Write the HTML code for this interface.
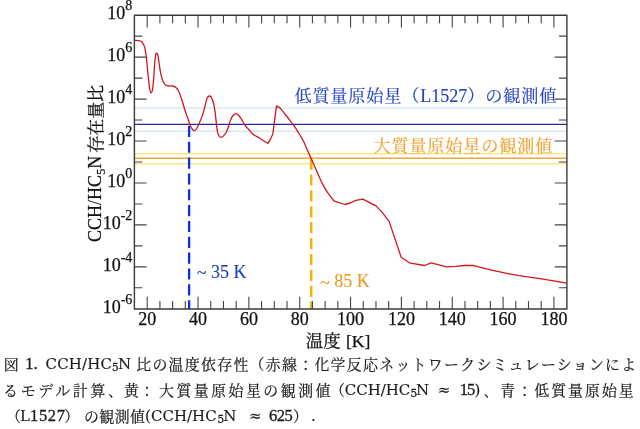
<!DOCTYPE html>
<html lang="ja"><head><meta charset="utf-8"><title>fig</title>
<style>
html,body{margin:0;padding:0;background:#fff}
body{width:640px;height:429px;position:relative;overflow:hidden}
.c{font-family:"Noto Serif CJK JP","Noto Serif CJK SC",serif;font-size:14.9px;stroke-width:0.2}
.l{font-family:"DejaVu Serif","Liberation Serif",serif;font-size:15px;stroke-width:0.15}
.s{font-family:"DejaVu Serif","Liberation Serif",serif;font-size:10.5px;stroke-width:0.3}
.d{font-family:"Liberation Serif",serif;font-size:16.5px;stroke-width:0.32}
</style></head><body>
<svg width="640" height="429" viewBox="0 0 640 429" style="position:absolute;left:0;top:0">
<g fill="none">
<path d="M134.4 108.1H566.9M134.4 131.3H566.9" stroke="#d6e7ee" stroke-width="1.5"/>
<path d="M134.4 153.8H566.9M134.4 163.7H566.9" stroke="#f7ea82" stroke-width="1.5"/>
<path d="M134.4 158.2H566.9" stroke="#efa63c" stroke-width="1.6"/>
<path d="M134.4 124.4H566.9" stroke="#2424a4" stroke-width="1.25"/>
<path d="M189.1 125.9V309.0" stroke="#0b30e2" stroke-width="2.3" stroke-dasharray="11.1 4.74"/>
<path d="M311.2 158.5V309.0" stroke="#f6b20a" stroke-width="2.5" stroke-dasharray="11.2 4.7"/>
<path d="M134.8 40.4C135.5 40.5 137.6 40.4 138.8 40.7C140.0 41.0 141.2 41.3 142.0 42.0C142.8 42.7 143.2 43.8 143.8 45.1C144.4 46.5 144.9 48.0 145.3 50.1C145.7 52.2 146.0 54.4 146.4 57.7C146.8 61.1 147.2 66.1 147.6 70.2C148.0 74.3 148.5 79.3 148.9 82.6C149.3 85.9 149.5 88.4 149.9 90.1C150.3 91.8 150.7 92.9 151.1 92.9C151.5 92.9 152.0 92.2 152.4 90.1C152.8 88.0 153.2 84.4 153.6 80.1C154.0 75.8 154.2 68.3 154.6 64.0C155.0 59.7 155.4 56.3 155.8 54.5C156.2 52.7 156.5 53.2 156.8 53.3C157.2 53.4 157.5 53.4 157.9 55.2C158.3 57.0 158.8 61.4 159.2 64.0C159.6 66.6 159.9 69.0 160.3 71.0C160.7 73.0 160.9 74.5 161.4 76.3C161.9 78.1 162.6 80.5 163.3 82.0C164.0 83.5 164.9 84.4 165.8 85.1C166.8 85.8 167.8 85.8 169.0 86.0C170.2 86.2 171.7 85.7 172.8 86.0C174.0 86.3 175.0 86.8 175.9 87.6C176.8 88.4 177.6 89.2 178.4 90.8C179.2 92.4 180.1 94.6 180.9 97.0C181.8 99.4 182.7 102.5 183.5 105.2C184.3 107.9 185.2 110.9 186.0 113.4C186.8 115.9 187.8 118.3 188.5 120.3C189.2 122.3 189.4 123.7 190.1 125.2C190.8 126.8 191.9 128.7 192.6 129.6C193.3 130.5 193.9 130.7 194.5 130.6C195.1 130.5 195.7 130.1 196.4 129.0C197.1 127.9 198.0 126.1 198.9 124.0C199.8 121.9 201.2 119.1 202.1 116.4C203.0 113.7 203.8 110.4 204.6 107.6C205.4 104.8 206.1 101.2 206.7 99.4C207.3 97.6 207.9 97.1 208.4 96.5C208.9 95.9 209.1 95.9 209.6 96.0C210.1 96.1 210.7 96.2 211.3 97.3C211.9 98.4 212.8 100.2 213.4 102.6C214.0 104.9 214.5 108.1 215.0 111.4C215.5 114.8 215.9 119.2 216.3 122.7C216.7 126.2 217.0 129.9 217.5 132.1C218.0 134.3 218.5 135.0 219.1 135.9C219.7 136.8 220.2 137.4 220.9 137.4C221.6 137.4 222.7 136.7 223.5 135.9C224.3 135.1 225.2 134.2 226.0 132.8C226.8 131.4 227.4 129.6 228.1 127.7C228.8 125.8 229.4 123.3 230.1 121.4C230.8 119.5 231.6 117.6 232.3 116.4C233.0 115.2 233.8 114.7 234.4 114.2C235.0 113.7 235.3 113.4 236.0 113.6C236.7 113.8 237.7 114.2 238.6 115.2C239.5 116.2 240.5 117.8 241.7 119.6C242.8 121.4 244.1 123.9 245.5 125.8C246.9 127.7 248.8 129.5 250.0 130.9C251.2 132.3 251.1 132.8 252.6 134.0C254.1 135.2 257.0 136.6 258.9 137.8C260.8 139.0 262.4 140.1 263.9 141.0C265.4 141.9 267.2 143.0 267.9 143.4L270.6 138.8L272.8 134.0L276.5 105.9C277.1 106.3 278.8 106.8 280.3 108.2C281.8 109.6 283.6 112.4 285.3 114.5C287.0 116.6 288.6 118.6 290.3 120.8C292.0 123.0 293.6 125.2 295.3 127.7C297.0 130.2 299.1 133.8 300.4 135.9C301.7 138.0 301.7 137.7 303.0 140.3C304.3 142.9 306.7 148.5 308.0 151.5C309.3 154.5 310.0 155.9 311.0 158.2C312.0 160.4 312.9 162.6 314.0 165.0C315.1 167.4 316.0 169.4 317.3 172.4C318.6 175.4 320.4 179.8 322.0 182.9C323.6 186.0 325.2 188.9 326.6 191.1C328.0 193.2 328.9 194.2 330.1 195.8C331.3 197.4 333.3 200.0 333.9 200.8L344.9 204.5L350.2 203.0L355.9 200.4L362.9 199.1L376.0 205.9L382.6 212.9L389.2 221.6L401.2 257.3L409.3 262.8L424.7 265.5L431.2 262.8L446.6 266.8L456.0 266.3L464.1 265.5L472.9 265.3L490.4 269.9L507.9 273.6L518.9 275.6L536.4 278.2L553.9 280.8L566.6 283.2" stroke="#d2161b" stroke-width="1.3" stroke-linejoin="round"/>
<path d="M147.20 15.20v12.2M147.20 309.00v-12.2M159.91 15.20v8.0M159.91 309.00v-8.0M172.62 15.20v8.0M172.62 309.00v-8.0M185.33 15.20v8.0M185.33 309.00v-8.0M198.04 15.20v12.2M198.04 309.00v-12.2M210.75 15.20v8.0M210.75 309.00v-8.0M223.46 15.20v8.0M223.46 309.00v-8.0M236.17 15.20v8.0M236.17 309.00v-8.0M248.88 15.20v12.2M248.88 309.00v-12.2M261.59 15.20v8.0M261.59 309.00v-8.0M274.30 15.20v8.0M274.30 309.00v-8.0M287.01 15.20v8.0M287.01 309.00v-8.0M299.72 15.20v12.2M299.72 309.00v-12.2M312.43 15.20v8.0M312.43 309.00v-8.0M325.14 15.20v8.0M325.14 309.00v-8.0M337.85 15.20v8.0M337.85 309.00v-8.0M350.56 15.20v12.2M350.56 309.00v-12.2M363.27 15.20v8.0M363.27 309.00v-8.0M375.98 15.20v8.0M375.98 309.00v-8.0M388.69 15.20v8.0M388.69 309.00v-8.0M401.40 15.20v12.2M401.40 309.00v-12.2M414.11 15.20v8.0M414.11 309.00v-8.0M426.82 15.20v8.0M426.82 309.00v-8.0M439.53 15.20v8.0M439.53 309.00v-8.0M452.24 15.20v12.2M452.24 309.00v-12.2M464.95 15.20v8.0M464.95 309.00v-8.0M477.66 15.20v8.0M477.66 309.00v-8.0M490.37 15.20v8.0M490.37 309.00v-8.0M503.08 15.20v12.2M503.08 309.00v-12.2M515.79 15.20v8.0M515.79 309.00v-8.0M528.50 15.20v8.0M528.50 309.00v-8.0M541.21 15.20v8.0M541.21 309.00v-8.0M553.92 15.20v12.2M553.92 309.00v-12.2M134.40 287.81h8.0M566.90 287.81h-8.0M134.40 266.84h12.2M566.90 266.84h-12.2M134.40 245.87h8.0M566.90 245.87h-8.0M134.40 224.90h12.2M566.90 224.90h-12.2M134.40 203.93h8.0M566.90 203.93h-8.0M134.40 182.96h12.2M566.90 182.96h-12.2M134.40 161.99h8.0M566.90 161.99h-8.0M134.40 141.02h12.2M566.90 141.02h-12.2M134.40 120.05h8.0M566.90 120.05h-8.0M134.40 99.08h12.2M566.90 99.08h-12.2M134.40 78.11h8.0M566.90 78.11h-8.0M134.40 57.14h12.2M566.90 57.14h-12.2M134.40 36.17h8.0M566.90 36.17h-8.0" stroke="#444" stroke-width="1.1"/>
<rect x="134.4" y="15.2" width="432.5" height="293.8" stroke="#3a3a3a" stroke-width="1.4" stroke-linejoin="round"/>
</g>
<g font-family="'Liberation Serif','Noto Serif CJK JP','Noto Serif CJK SC',serif" font-size="18" fill="#111" stroke-width="0.25" stroke-linejoin="round">
<g stroke="#111"><text x="147.2" y="324.8" text-anchor="middle">20</text><text x="198.0" y="324.8" text-anchor="middle">40</text><text x="248.9" y="324.8" text-anchor="middle">60</text><text x="299.7" y="324.8" text-anchor="middle">80</text><text x="350.6" y="324.8" text-anchor="middle">100</text><text x="401.4" y="324.8" text-anchor="middle">120</text><text x="452.2" y="324.8" text-anchor="middle">140</text><text x="503.1" y="324.8" text-anchor="middle">160</text><text x="553.9" y="324.8" text-anchor="middle">180</text>
<text x="132.3" y="312.9" text-anchor="end">10<tspan dy="-9.4" font-size="14">-6</tspan></text><text x="132.3" y="270.9" text-anchor="end">10<tspan dy="-9.4" font-size="14">-4</tspan></text><text x="132.3" y="229.0" text-anchor="end">10<tspan dy="-9.4" font-size="14">-2</tspan></text><text x="132.3" y="187.1" text-anchor="end">10<tspan dy="-9.4" font-size="14">0</tspan></text><text x="132.3" y="145.1" text-anchor="end">10<tspan dy="-9.4" font-size="14">2</tspan></text><text x="132.3" y="103.2" text-anchor="end">10<tspan dy="-9.4" font-size="14">4</tspan></text><text x="132.3" y="61.2" text-anchor="end">10<tspan dy="-9.4" font-size="14">6</tspan></text><text x="132.3" y="19.3" text-anchor="end">10<tspan dy="-9.4" font-size="14">8</tspan></text>
<text x="338" y="347.3" text-anchor="middle" font-size="17.5">温度<tspan dx="1"> [K]</tspan></text>
<text transform="translate(101,241.9) rotate(-90)">CCH/HC<tspan dy="3.5" font-size="12">5</tspan><tspan dy="-3.5">N</tspan><tspan dx="3" dy="0.5" font-size="17">存在量比</tspan></text></g>
<text x="196.8" y="277.6" fill="#1e3cc0" stroke="#1e3cc0" stroke-width="0.12"><tspan dy="1.4">~</tspan><tspan dy="-1.4"> 35 K</tspan></text>
<text x="320" y="287.1" fill="#ee9a22" stroke="#ee9a22" stroke-width="0.1"><tspan dy="1.4">~</tspan><tspan dy="-1.4"> 85 K</tspan></text>
<text x="294.4" y="102.3" fill="#2743c4" stroke="#2743c4" stroke-width="0.15"><tspan font-size="17.2" style="letter-spacing:0.8px">低質量原始星（</tspan>L1527<tspan font-size="17.2" style="letter-spacing:0.8px">）の観測値</tspan></text>
<text x="373.4" y="152.4" fill="#f0a030" stroke="#f0a030" stroke-width="0.15" font-size="17.2" style="letter-spacing:0.8px">大質量原始星の観測値</text>
</g>
</svg>
<svg width="640" height="429" viewBox="0 0 640 429" style="position:absolute;left:0;top:0"><g fill="#1a1a1a" stroke="#1a1a1a"><text class="c" x="3.70" y="369.6">図</text><text class="d" x="25.30" y="369.0">1.</text><text class="l" x="45.60" y="369.0" style="letter-spacing:0.140px">CCH/HC</text><text class="s" x="111.90" y="371.4">5</text><text class="l" x="118.10" y="369.0">N</text><text class="c" x="136.20" y="369.6" style="letter-spacing:1.310px">比の温度依存性（赤線：化学反応ネットワークシミュレーションによ</text><text class="c" x="3.00" y="395.6" style="letter-spacing:2.750px">るモデル計算、</text><text class="c" x="124.00" y="395.6" style="letter-spacing:0.500px">黄：</text><text class="c" x="159.00" y="395.6" style="letter-spacing:2.500px">大質量原始星の観測値</text><text class="c" x="330.00" y="395.6">（</text><text class="l" x="344.70" y="395.0">CCH/HC</text><text class="s" x="410.60" y="397.4">5</text><text class="l" x="416.00" y="395.0">N</text><text class="l" x="437.70" y="395.0">≈</text><text class="d" x="459.80" y="395.0" style="letter-spacing:-1.000px">15</text><text class="l" x="474.60" y="395.0">)</text><text class="c" x="483.40" y="395.6" style="letter-spacing:2.044px">、青：低質量原始星</text><text class="c" x="6.00" y="421.6">（</text><text class="l" x="20.00" y="421.0">L</text><text class="d" x="30.00" y="421.0" style="letter-spacing:0.667px">1527</text><text class="c" x="64.30" y="421.6">）</text><text class="c" x="84.00" y="421.6" style="letter-spacing:0.433px">の観測値</text><text class="l" x="145.00" y="421.0">(</text><text class="l" x="151.00" y="421.0">CCH/HC</text><text class="s" x="217.50" y="423.4">5</text><text class="l" x="223.30" y="421.0">N</text><text class="l" x="249.00" y="421.0">≈</text><text class="d" x="269.00" y="421.0" style="letter-spacing:-0.500px">625</text><text class="c" x="293.00" y="421.6">）</text><text class="l" x="311.00" y="421.0">.</text></g></svg>
</body></html>
